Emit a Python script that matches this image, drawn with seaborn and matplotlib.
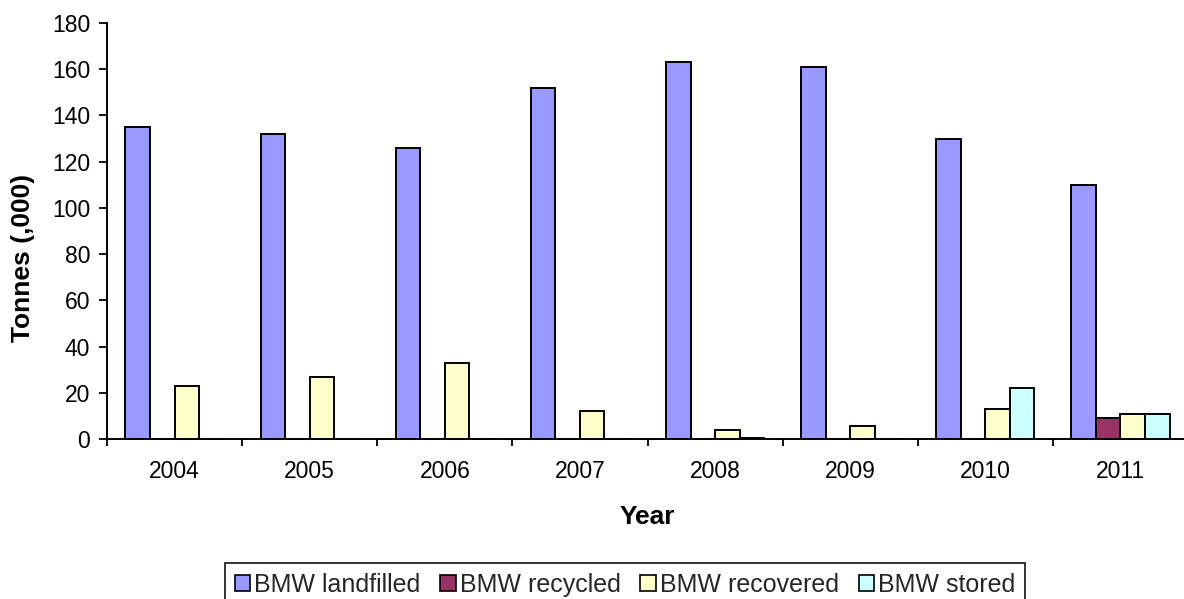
import matplotlib
matplotlib.use("Agg")
import matplotlib.pyplot as plt
from matplotlib.patches import Patch
import numpy as np
import pandas as pd
import seaborn as sns

years = ["2004", "2005", "2006", "2007", "2008", "2009", "2010", "2011"]
landfilled = [135, 132, 126, 152, 163, 161, 130, 110]
recycled = [0, 0, 0, 0, 0, 0, 0, 9]
recovered = [23, 27, 33, 12, 4, 5.5, 13, 11]
stored = [0, 0, 0, 0, 0.5, 0, 22, 11]

series_names = ["BMW landfilled", "BMW recycled", "BMW recovered", "BMW stored"]
series_colors = ["#9999FF", "#993366", "#FFFFCC", "#CCFFFF"]

df = pd.DataFrame({
    "Year": years * 4,
    "Series": np.repeat(series_names, len(years)),
    "Tonnes": landfilled + recycled + recovered + stored,
})

sns.set_theme(style="white")
plt.rcParams["font.family"] = ["Liberation Sans", "DejaVu Sans"]

fig = plt.figure(figsize=(11.84, 5.99), dpi=100)
ax = fig.add_axes([107 / 1184, 1 - 439 / 599, (1188 - 107) / 1184, (439 - 23) / 599])

sns.barplot(
    data=df, x="Year", y="Tonnes", hue="Series",
    hue_order=series_names, order=years,
    palette=dict(zip(series_names, series_colors)), saturation=1,
    width=0.727, gap=0, edgecolor="black", linewidth=1.4,
    errorbar=None, legend=False, ax=ax,
)

ax.set_xlim(-0.5, len(years) - 0.5)
ax.set_ylim(0, 180)
ax.set_yticks(np.arange(0, 181, 20))

# Tick marks sit between the year groups, labels at the group centres
ax.set_xticks(np.arange(len(years)))
ax.set_xticklabels(years)
ax.set_xticks(np.arange(-0.5, len(years), 1.0), minor=True)
ax.tick_params(axis="x", which="major", length=0, pad=15, labelsize=16.5, colors="black")
ax.tick_params(axis="x", which="minor", length=5, width=1.3, direction="out", color="black", bottom=True)
ax.tick_params(axis="y", which="major", length=6, width=1.3, direction="out", color="black",
               left=True, pad=6, labelsize=16.5, labelcolor="black")

for side in ["top", "right"]:
    ax.spines[side].set_visible(False)
for side in ["left", "bottom"]:
    ax.spines[side].set_color("black")
    ax.spines[side].set_linewidth(1.4)

ax.set_xlabel("Year", fontsize=19, fontweight="bold", labelpad=16, color="black")
ax.set_ylabel("Tonnes (,000)", fontsize=19, fontweight="bold", labelpad=12, color="black", y=0.435)

handles = [Patch(facecolor=c, edgecolor="black", linewidth=1.2) for c in series_colors]
leg = fig.legend(
    handles, series_names, loc="upper center",
    bbox_to_anchor=(625 / 1184, 1 - 563 / 599), ncol=4, frameon=True,
    fancybox=False, fontsize=18, handlelength=0.62, handleheight=0.62,
    handletextpad=0.15, columnspacing=0.8, borderpad=0.4, borderaxespad=0,
)
leg.get_frame().set_edgecolor("black")
leg.get_frame().set_linewidth(1.4)

fig.savefig("out.png", dpi=100)
